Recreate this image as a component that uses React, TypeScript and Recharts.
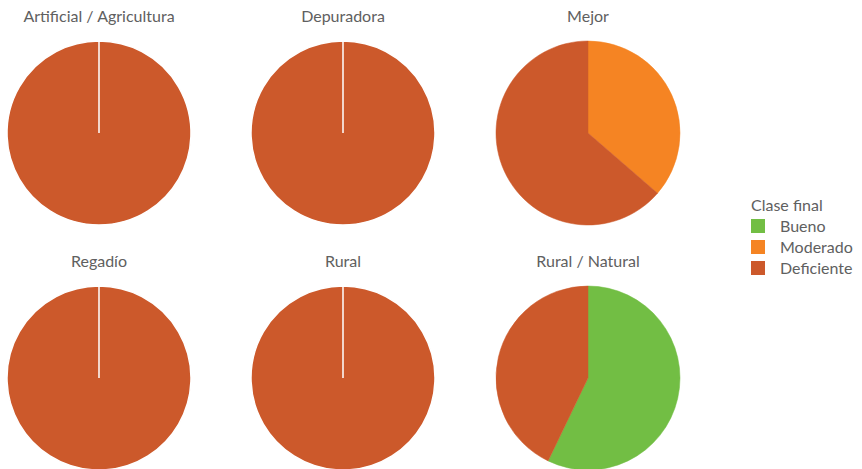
import React from "react";
import { PieChart, Pie, Cell } from "recharts";

// classes (legend order) and their colours
const classes = ["Bueno", "Moderado", "Deficiente"];
const classColors = ["#72BE44", "#F58423", "#CC592B"];

// panel titles, row by row
const panelTitles = [
  "Artificial / Agricultura",
  "Depuradora",
  "Mejor",
  "Regadío",
  "Rural",
  "Rural / Natural",
];

// number of stations per class (Bueno, Moderado, Deficiente) in each panel
const buenoCounts = [0, 0, 0, 0, 0, 4];
const moderadoCounts = [0, 0, 4, 0, 0, 0];
const deficienteCounts = [1, 1, 7, 1, 1, 3];

const FONT = "Lato, 'Noto Sans', sans-serif";
const TEXT = "#606060";

const colX = [99, 343, 588];
const rowY = [133, 378];
const R = 92;
const BOX = 200;

function panelData(i: number) {
  const counts = [buenoCounts[i], moderadoCounts[i], deficienteCounts[i]];
  return classes
    .map((name, k) => ({ name, value: counts[k], color: classColors[k] }))
    .filter((d) => d.value > 0);
}

function Panel({ index }: { index: number }) {
  const data = panelData(index);
  const cx = colX[index % 3];
  const cy = rowY[Math.floor(index / 3)];
  const single = data.length === 1;
  return (
    <>
      <div
        style={{
          position: "absolute",
          left: cx - 120,
          width: 240,
          top: cy - 126,
          textAlign: "center",
          fontSize: 16,
          color: TEXT,
          lineHeight: "18px",
        }}
      >
        {panelTitles[index]}
      </div>
      <div style={{ position: "absolute", left: cx - BOX / 2, top: cy - BOX / 2 }}>
        <PieChart width={BOX} height={BOX} margin={{ top: 0, right: 0, bottom: 0, left: 0 }}>
          <Pie
            data={data}
            dataKey="value"
            nameKey="name"
            cx={BOX / 2}
            cy={BOX / 2}
            outerRadius={R}
            startAngle={90}
            endAngle={-270}
            isAnimationActive={false}
            label={false}
            labelLine={false}
          >
            {data.map((d) => (
              <Cell
                key={d.name}
                fill={d.color}
                stroke={single ? "#ffffff" : d.color}
                strokeWidth={single ? 1.5 : 0.5}
              />
            ))}
          </Pie>
        </PieChart>
      </div>
    </>
  );
}

export default function App() {
  return (
    <div
      style={{
        position: "absolute",
        left: 0,
        top: 0,
        width: 862,
        height: 469,
        overflow: "hidden",
        background: "#fff",
        fontFamily: FONT,
      }}
    >
      {panelTitles.map((_, i) => (
        <Panel key={i} index={i} />
      ))}

      {/* legend */}
      <div style={{ position: "absolute", left: 751, top: 195, color: TEXT, fontSize: 16 }}>
        <div style={{ lineHeight: "20px", marginBottom: 0 }}>Clase final</div>
        {classes.map((c, k) => (
          <div key={c} style={{ display: "flex", alignItems: "center", height: 21 }}>
            <span
              style={{
                display: "inline-block",
                width: 14,
                height: 14,
                background: classColors[k],
                marginRight: 15,
              }}
            />
            <span>{c}</span>
          </div>
        ))}
      </div>
    </div>
  );
}
